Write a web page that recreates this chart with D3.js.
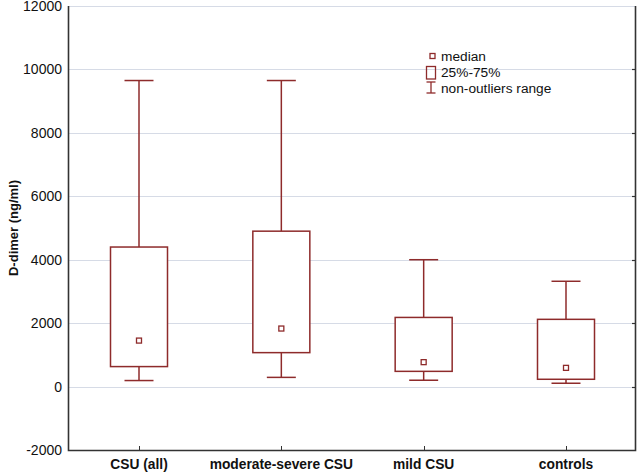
<!DOCTYPE html>
<html>
<head>
<meta charset="utf-8">
<script src="https://cdn.jsdelivr.net/npm/d3@7"></script>
<style>
  body { margin: 0; background: #fff; }
  svg { display: block; font-family: "Liberation Sans", Arial, sans-serif; }
</style>
</head>
<body>
<svg id="chart" width="638" height="473"></svg>
<script>
var groups = ['CSU (all)', 'moderate-severe CSU', 'mild CSU', 'controls'];
var whiskerLow = [190, 290, 200, 105];
var q1 = [630, 1070, 480, 230];
var medians = [1450, 1830, 770, 590];
var q3 = [4400, 4900, 2180, 2120];
var whiskerHigh = [9650, 9650, 4000, 3320];
var yTicks = [-2000, 0, 2000, 4000, 6000, 8000, 10000, 12000];
var legendItems = ['median', '25%-75%', 'non-outliers range'];

(function() {
    var svg = d3.select('#chart'),
        pLeft = 68, pRight = 635, pTop = 6, pBottom = 450,
        red = '#8e2b2b',
        axisCol = '#333',
        boxW = 57, capW = 29, medSize = 5;

    var x = d3.scalePoint().domain(groups).range([139, 566]);
    var y = d3.scaleLinear().domain([-2000, 12000]).range([pBottom, pTop]);

    var rows = groups.map(function(g, i) {
        return { g: g, lo: whiskerLow[i], q1: q1[i], med: medians[i], q3: q3[i], hi: whiskerHigh[i] };
    });

    function snap(v) { return Math.round(v) + 0.5; }

    // grid lines (top one doubles as top border)
    svg.append('g').selectAll('line').data(yTicks).enter().append('line')
        .attr('x1', pLeft).attr('x2', pRight)
        .attr('y1', function(d) { return snap(y(d)); })
        .attr('y2', function(d) { return snap(y(d)); })
        .attr('stroke', '#d6dbe6').attr('stroke-width', 1.2);

    // y axis labels
    svg.append('g').selectAll('text').data(yTicks).enter().append('text')
        .attr('x', 62).attr('y', function(d) { return y(d) + 5; })
        .attr('text-anchor', 'end').attr('font-size', 14).attr('fill', '#111')
        .text(function(d) { return d; });

    // right side ticks (inward)
    svg.append('g').selectAll('line').data(yTicks.slice(1, -1)).enter().append('line')
        .attr('x1', pRight - 3).attr('x2', pRight)
        .attr('y1', function(d) { return snap(y(d)); })
        .attr('y2', function(d) { return snap(y(d)); })
        .attr('stroke', axisCol).attr('stroke-width', 1.2);

    // x ticks (inward)
    svg.append('g').selectAll('line').data(groups).enter().append('line')
        .attr('x1', function(d) { return snap(x(d)); })
        .attr('x2', function(d) { return snap(x(d)); })
        .attr('y1', pBottom).attr('y2', pBottom - 4)
        .attr('stroke', axisCol);

    // left, bottom and right borders
    svg.append('path')
        .attr('d', 'M' + (pLeft + 0.5) + ',' + pTop + 'V' + (pBottom + 0.5) + 'H' + (pRight + 0.5) + 'V' + pTop)
        .attr('fill', 'none').attr('stroke', axisCol).attr('stroke-width', 1.6);

    // boxes
    var box = svg.append('g').selectAll('g').data(rows).enter().append('g')
        .attr('stroke', red).attr('fill', 'none').attr('stroke-width', 1.5);

    box.append('line')
        .attr('x1', function(d) { return x(d.g); }).attr('x2', function(d) { return x(d.g); })
        .attr('y1', function(d) { return y(d.hi); }).attr('y2', function(d) { return y(d.q3); });
    box.append('line')
        .attr('x1', function(d) { return x(d.g); }).attr('x2', function(d) { return x(d.g); })
        .attr('y1', function(d) { return y(d.q1); }).attr('y2', function(d) { return y(d.lo); });
    box.append('line')
        .attr('x1', function(d) { return x(d.g) - capW / 2; }).attr('x2', function(d) { return x(d.g) + capW / 2; })
        .attr('y1', function(d) { return y(d.hi); }).attr('y2', function(d) { return y(d.hi); });
    box.append('line')
        .attr('x1', function(d) { return x(d.g) - capW / 2; }).attr('x2', function(d) { return x(d.g) + capW / 2; })
        .attr('y1', function(d) { return y(d.lo); }).attr('y2', function(d) { return y(d.lo); });
    box.append('rect')
        .attr('x', function(d) { return x(d.g) - boxW / 2; })
        .attr('y', function(d) { return y(d.q3); })
        .attr('width', boxW)
        .attr('height', function(d) { return y(d.q1) - y(d.q3); })
        .attr('fill', '#fff');
    box.append('rect')
        .attr('x', function(d) { return x(d.g) - medSize / 2; })
        .attr('y', function(d) { return y(d.med) - medSize / 2; })
        .attr('width', medSize).attr('height', medSize)
        .attr('stroke-width', 1.3);

    // x labels
    svg.append('g').selectAll('text').data(groups).enter().append('text')
        .attr('x', function(d) { return x(d); }).attr('y', 469)
        .attr('text-anchor', 'middle').attr('font-size', 13.8).attr('font-weight', 'bold')
        .attr('fill', '#111')
        .text(function(d) { return d; });

    // y title
    svg.append('text')
        .attr('transform', 'translate(18,' + ((pTop + pBottom) / 2) + ') rotate(-90)')
        .attr('text-anchor', 'middle').attr('font-size', 13).attr('font-weight', 'bold')
        .attr('fill', '#111')
        .text('D-dimer (ng/ml)');

    // legend
    var lg = svg.append('g').attr('stroke', red).attr('fill', 'none').attr('stroke-width', 1.3);
    lg.append('rect').attr('x', 430).attr('y', 53.5).attr('width', 5).attr('height', 5);
    lg.append('rect').attr('x', 426.5).attr('y', 66.5).attr('width', 9).attr('height', 12.5);
    lg.append('line').attr('x1', 431).attr('x2', 431).attr('y1', 82).attr('y2', 93);
    lg.append('line').attr('x1', 426.5).attr('x2', 435.5).attr('y1', 82).attr('y2', 82);
    lg.append('line').attr('x1', 426.5).attr('x2', 435.5).attr('y1', 93).attr('y2', 93);

    svg.append('g').selectAll('text').data(legendItems).enter().append('text')
        .attr('x', 441).attr('y', function(d, i) { return 61 + i * 16; })
        .attr('font-size', 13.7).attr('fill', '#111')
        .text(function(d) { return d; });
})();
</script>
</body>
</html>
